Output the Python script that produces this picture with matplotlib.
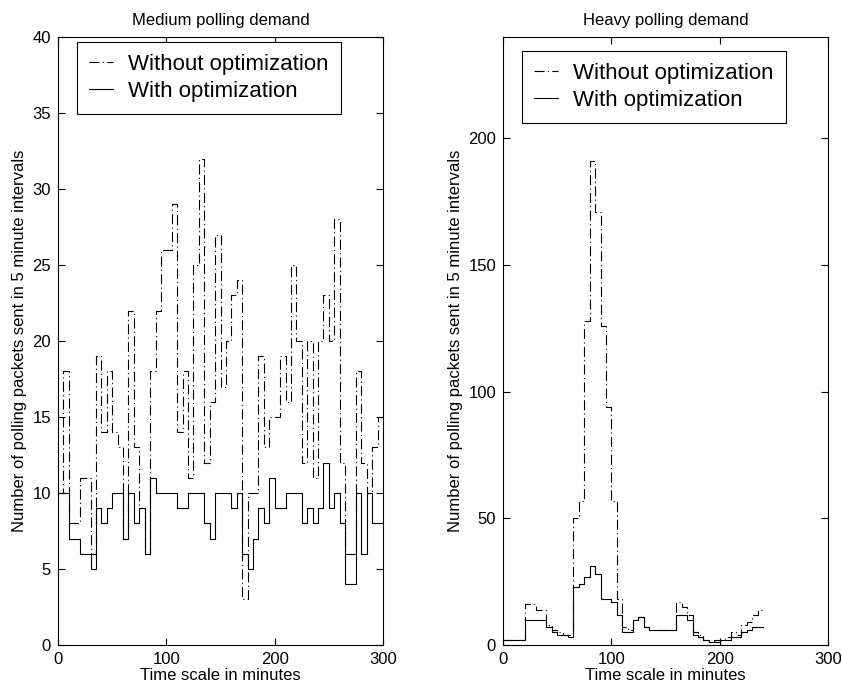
import matplotlib
matplotlib.use('Agg')
import matplotlib.pyplot as plt

plt.rcParams['font.family'] = ['Liberation Sans', 'DejaVu Sans']

# width of one interval in minutes
STEP = 5

# packets per 5 minute interval, medium demand (0..300 min)
medium_without = [10, 18, 8, 8, 11, 11, 6, 19, 14, 18,
                  14, 13, 7, 22, 13, 9, 6, 18, 22, 26,
                  26, 29, 14, 18, 11, 25, 32, 12, 16, 27,
                  17, 20, 23, 24, 3, 10, 10, 19, 13, 15,
                  15, 19, 16, 25, 20, 12, 20, 11, 20, 23,
                  20, 28, 12, 6, 6, 18, 12, 10, 13, 15]
medium_with = [10, 10, 7, 7, 6, 6, 5, 9, 8, 9,
               10, 10, 7, 10, 8, 9, 6, 11, 10, 10,
               10, 10, 9, 9, 10, 10, 10, 8, 7, 10,
               10, 10, 9, 10, 6, 5, 7, 9, 8, 11,
               9, 9, 10, 10, 10, 8, 9, 8, 9, 12,
               9, 10, 8, 4, 4, 10, 6, 10, 8, 8]

# heavy demand (0..240 min)
heavy_without = [2, 2, 2, 2, 16, 16, 14, 14, 8, 6,
                 5, 4, 4, 50, 57, 128, 191, 171, 126, 94,
                 57, 18, 7, 6, 10, 11, 7, 6, 6, 6,
                 6, 6, 17, 15, 12, 5, 4, 2, 1, 2,
                 2, 3, 5, 4, 8, 9, 12, 14]
heavy_with = [2, 2, 2, 2, 10, 10, 10, 10, 7, 5,
              4, 4, 3, 23, 24, 27, 31, 28, 18, 18,
              17, 12, 5, 5, 10, 11, 7, 6, 6, 6,
              6, 6, 12, 12, 10, 4, 3, 2, 1, 1,
              2, 2, 3, 3, 5, 6, 7, 7]

W, H = 842, 692
DASHDOT = (0, (9, 3, 1, 3))


def px_axes(fig, left, top, right, bottom):
    return fig.add_axes([left / W, 1 - bottom / H,
                         (right - left) / W, (bottom - top) / H])


def draw_panel(ax, without, with_opt, title, ylim, yticks, leg_top):
    edges = [i * STEP for i in range(len(without) + 1)]
    ax.step(edges, without + [without[-1]], where='post', color='k',
            lw=0.8, linestyle=DASHDOT, label='Without optimization')
    ax.step(edges, with_opt + [with_opt[-1]], where='post', color='k',
            lw=0.8, label='With optimization')
    ax.set_xlim(0, 300)
    ax.set_ylim(*ylim)
    ax.set_xticks([0, 100, 200, 300])
    ax.set_yticks(yticks)
    ax.tick_params(direction='in', top=True, right=True, length=5,
                   width=0.8, labelsize=12, pad=5)
    for s in ax.spines.values():
        s.set_linewidth(0.8)
    ax.set_title(title, fontsize=12, pad=9)
    ax.set_xlabel('Time scale in minutes', fontsize=12, labelpad=1)
    ax.set_ylabel('Number of polling packets sent in 5 minute intervals',
                  fontsize=12, labelpad=4)
    leg = ax.legend(loc='upper left', bbox_to_anchor=(0.0585, leg_top),
                    borderaxespad=0, fancybox=False, edgecolor='k',
                    framealpha=1, fontsize=16, handlelength=1.05,
                    handletextpad=0.7, borderpad=0.55, labelspacing=0.25)
    leg.get_frame().set_linewidth(0.8)


def main():
    fig = plt.figure(figsize=(W / 100, H / 100), dpi=100)

    ax1 = px_axes(fig, 58, 37, 383, 645)
    draw_panel(ax1, medium_without, medium_with, 'Medium polling demand',
               (0, 40), range(0, 41, 5), 0.992)

    ax2 = px_axes(fig, 503, 37, 828, 645)
    draw_panel(ax2, heavy_without, heavy_with, 'Heavy polling demand',
               (0, 240), range(0, 201, 50), 0.977)

    fig.savefig('out.png', dpi=100)


if __name__ == '__main__':
    main()
